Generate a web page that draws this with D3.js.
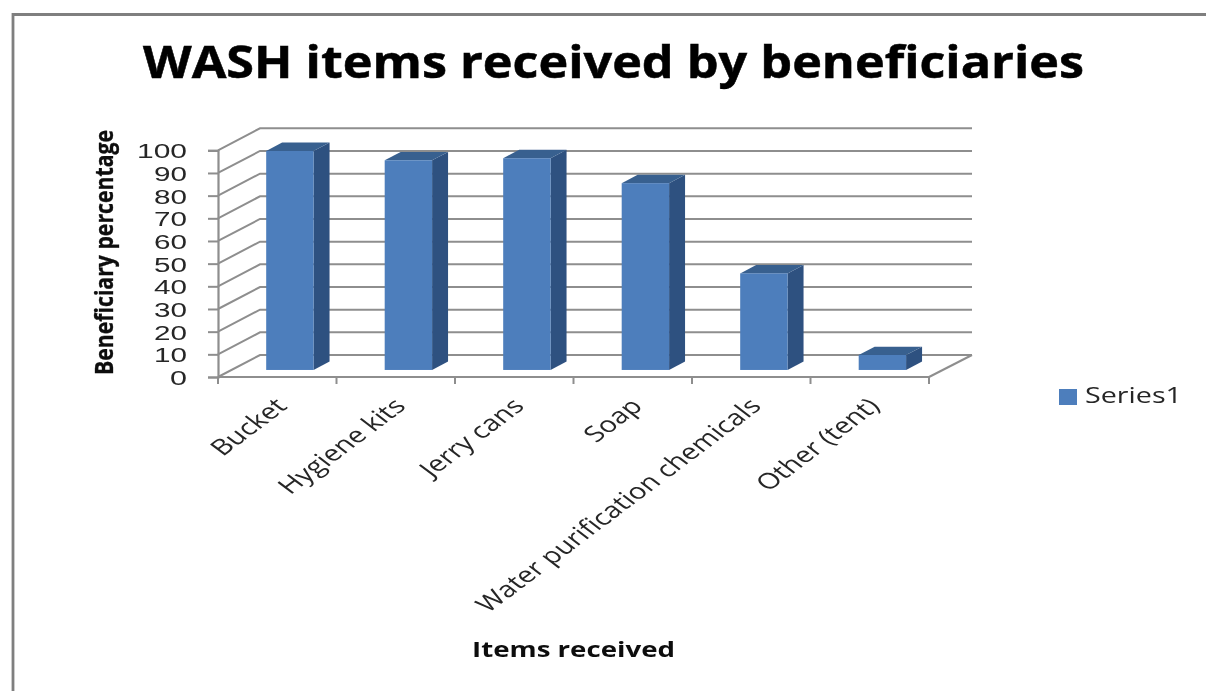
<!DOCTYPE html>
<html>
<head>
<meta charset="utf-8">
<script src="https://cdn.jsdelivr.net/npm/d3@7"></script>
<style>html,body{margin:0;padding:0;background:#fff;overflow:hidden}svg{display:block}</style>
</head>
<body>
<div id="chart"></div>
<script>
const categories = ["Bucket","Hygiene kits","Jerry cans","Soap","Water purification chemicals","Other (tent)"];
const seriesValues = [96.6,92.5,93.4,82.4,42.6,6.6];
const yTicks = [0,10,20,30,40,50,60,70,80,90,100];
const seriesName = "Series1";
const chartTitle = "WASH items received by beneficiaries";
const xTitle = "Items received";
const yTitle = "Beneficiary percentage";

const W=1206,H=691;
const x0=218,x1=929,yBase=377,yTop=150.3;
const depth={dx:42,dy:-22};
const grey="#8e8e8e";
const font="'Open Sans',sans-serif";

const svg=d3.select("#chart").append("svg").attr("width",W).attr("height",H);
svg.append("defs").append("filter").attr("id","soft").append("feGaussianBlur").attr("stdDeviation",0.6);
const g=svg.append("g").attr("filter","url(#soft)");

const x=d3.scaleBand().domain(categories).range([x0,x1]);
const y=d3.scaleLinear().domain([0,100]).range([yBase,yTop]);

// outer frame
g.append("path").attr("d",`M13,${H}V14.5H${W}`).attr("fill","none").attr("stroke","#7f7f7f").attr("stroke-width",2.8);

// walls
const grid=g.append("g").attr("fill","none").attr("stroke",grey).attr("stroke-width",2);
grid.selectAll("path.g").data(yTicks).join("path").attr("class","g")
  .attr("d",d=>`M${x0},${y(d)}L${x0+depth.dx},${y(d)+depth.dy}H${x1+depth.dx+1}`);
grid.append("path").attr("d",`M${x1},${yBase}L${x1+depth.dx+1},${yBase+depth.dy}`);

// axes via d3
const yAxis=g.append("g").attr("transform",`translate(${x0},0)`)
  .call(d3.axisLeft(y).tickValues(yTicks).tickSize(10).tickPadding(21).tickFormat(d3.format("d")));
yAxis.select(".domain").attr("stroke",grey).attr("stroke-width",2.2);
yAxis.selectAll(".tick line").attr("stroke",grey).attr("stroke-width",2);
yAxis.selectAll("text").attr("font-family","'Liberation Sans',sans-serif").attr("font-size",19.5)
  .attr("fill","#262626").attr("textLength",d=>d===100?50:d===0?17:33).attr("lengthAdjust","spacingAndGlyphs")
  .attr("dy","0.38em");

const xAxis=g.append("g").attr("transform",`translate(0,${yBase})`)
  .call(d3.axisBottom(x).tickSize(0).tickFormat(""));
xAxis.select(".domain").remove();
const bounds=d3.range(categories.length+1).map(i=>x0+i*x.step());
g.append("path").attr("d",`M${x0},${yBase}H${x1}`).attr("stroke",grey).attr("stroke-width",2.2).attr("fill","none");
g.selectAll("line.tk").data(bounds).join("line").attr("class","tk")
  .attr("x1",d=>d).attr("x2",d=>d).attr("y1",yBase).attr("y2",yBase+7)
  .attr("stroke",grey).attr("stroke-width",2);

// 3D bars
const barW=x.bandwidth()*0.4;
const t0=0.32,t1=0.70;
const ox=t0*depth.dx, oy=t0*depth.dy;
const bdx=(t1-t0)*depth.dx, bdy=(t1-t0)*depth.dy;
const bars=g.selectAll("g.bar").data(categories.map((c,i)=>({c,v:seriesValues[i]}))).join("g").attr("class","bar");
const barLeft=d=>x(d.c)+(x.bandwidth()-barW)/2+ox-0.8;
const barBottom=yBase+oy;
const barTop=d=>barBottom-(yBase-y(d.v));
bars.append("path").attr("fill","#2f5180")
  .attr("d",d=>`M${barLeft(d)+barW},${barTop(d)}l${bdx},${bdy}V${barBottom+bdy}l${-bdx},${-bdy}Z`);
bars.append("path").attr("fill","#38608f")
  .attr("d",d=>`M${barLeft(d)},${barTop(d)}l${bdx},${bdy}h${barW}l${-bdx},${-bdy}Z`);
bars.append("rect").attr("fill","#4d7ebc")
  .attr("x",barLeft).attr("y",barTop).attr("width",barW).attr("height",d=>barBottom-barTop(d));

// category labels (source picture is stretched horizontally)
g.selectAll("text.cat").data(categories).join("text").attr("class","cat")
  .attr("transform",d=>`translate(${x(d)+x.bandwidth()/2+4},${yBase+25}) scale(1.33,1) rotate(-45)`)
  .attr("text-anchor","end").attr("font-family",font).attr("font-size",22).attr("fill","#262626")
  .attr("dy","0.35em").text(d=>d);

// titles
g.append("text").attr("x",143).attr("y",78).attr("font-family",font).attr("font-weight",700)
  .attr("font-size",44).attr("fill","#050505").attr("stroke","#050505").attr("stroke-width",0.5)
  .attr("textLength",941).attr("lengthAdjust","spacingAndGlyphs").text(chartTitle);
g.append("text").attr("x",472).attr("y",657).attr("font-family",font).attr("font-weight",700)
  .attr("font-size",21).attr("fill","#111").attr("textLength",203).attr("lengthAdjust","spacingAndGlyphs").text(xTitle);
g.append("text").attr("transform","translate(113,375) rotate(-90)").attr("font-family",font).attr("font-weight",700)
  .attr("font-size",25).attr("fill","#0a0a0a").attr("stroke","#0a0a0a").attr("stroke-width",0.3)
  .attr("textLength",245).attr("lengthAdjust","spacingAndGlyphs").text(yTitle);

// legend
g.append("rect").attr("x",1059).attr("y",389).attr("width",18).attr("height",16).attr("fill","#4d7ebc");
g.append("text").attr("x",1085).attr("y",403).attr("font-family",font).attr("font-size",22).attr("fill","#262626")
  .attr("textLength",97).attr("lengthAdjust","spacingAndGlyphs").text(seriesName);
</script>
</body>
</html>
